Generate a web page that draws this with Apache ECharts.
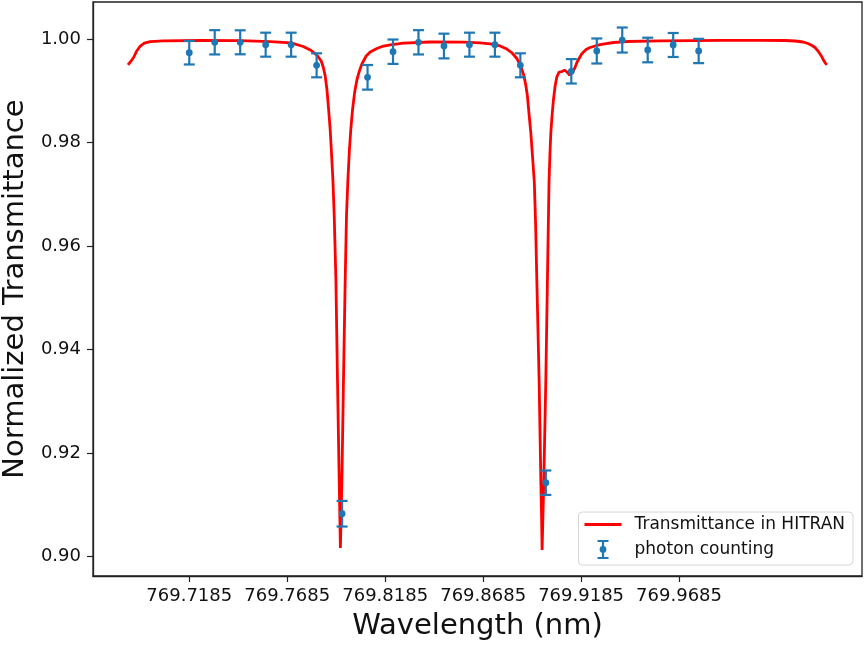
<!DOCTYPE html>
<html>
<head>
<meta charset="utf-8">
<script src="https://cdn.jsdelivr.net/npm/echarts@6/dist/echarts.min.js"></script>
<style>
html,body{margin:0;padding:0;background:#fff;}
#chart{width:865px;height:645px;}
</style>
</head>
<body>
<div id="chart"></div>
<script>
// HITRAN curve
var curveWl = [769.68722,769.68865,769.69008,769.69171,769.69350,769.69554,769.69860,769.70524,769.72411,769.74452,
    769.75983,769.77054,769.77666,769.78075,769.78381,769.78585,769.78687,769.78789,769.78881,769.78957,
    769.79044,769.79115,769.79182,769.79248,769.79335,769.79416,769.79503,769.79539,769.79564,769.79595,
    769.79641,769.79722,769.79809,769.79876,769.79947,769.80024,769.80100,769.80182,769.80294,769.80406,
    769.80524,769.80661,769.80881,769.81085,769.81427,769.81763,769.82105,769.82784,769.84146,769.85845,
    769.86697,769.87207,769.87666,769.88059,769.88330,769.88569,769.88763,769.88906,769.89018,769.89110,
    769.89197,769.89284,769.89365,769.89462,769.89529,769.89590,769.89707,769.89794,769.89835,769.89860,
    769.89896,769.89947,769.90049,769.90131,769.90177,769.90212,769.90258,769.90304,769.90370,769.90437,
    769.90524,769.90610,769.90728,769.90865,769.91008,769.91136,769.91263,769.91391,769.91518,769.91646,
    769.91876,769.92105,769.92309,769.92564,769.92819,769.93498,769.94182,769.95881,769.97580,769.98942,
    770.00983,770.02258,770.02768,770.03177,770.03432,770.03636,770.03789,770.03942,770.04131,770.04248,
    770.04386];
var curveT = [0.99503,0.99571,0.99648,0.99774,0.99870,0.99928,0.99957,0.99971,0.99977,0.99973,
    0.99957,0.99932,0.99861,0.99783,0.99687,0.99580,0.99464,0.99290,0.99019,0.98671,
    0.98246,0.97762,0.97279,0.96602,0.95344,0.93410,0.91476,0.90702,0.90161,0.90702,
    0.91476,0.93410,0.95344,0.96602,0.97279,0.97859,0.98284,0.98632,0.98981,0.99213,
    0.99377,0.99522,0.99677,0.99754,0.99822,0.99870,0.99894,0.99928,0.99948,0.99944,
    0.99932,0.99913,0.99880,0.99812,0.99735,0.99629,0.99484,0.99329,0.99135,0.98903,
    0.98536,0.98188,0.97762,0.97240,0.96408,0.95344,0.93410,0.91476,0.90702,0.90122,
    0.90702,0.91476,0.93410,0.95344,0.96408,0.97240,0.97762,0.98188,0.98536,0.98826,
    0.99097,0.99271,0.99367,0.99377,0.99402,0.99367,0.99309,0.99348,0.99435,0.99561,
    0.99716,0.99803,0.99841,0.99870,0.99897,0.99938,0.99957,0.99969,0.99975,0.99979,
    0.99981,0.99977,0.99967,0.99948,0.99919,0.99880,0.99841,0.99774,0.99667,0.99580,
    0.99503];

// photon counting points
var countWl = [769.7185,769.7315,769.7445,769.7575,769.7705,769.7835,769.7965,769.8095,769.8225,769.8355,
    769.8485,769.8615,769.8745,769.8875,769.9005,769.9135,769.9265,769.9395,769.9525,769.9655,769.9785];
var countT = [0.99741,0.99942,0.99942,0.99896,0.99896,0.99497,0.90824,0.99265,0.99760,0.99942,
    0.99870,0.99896,0.99896,0.99497,0.91424,0.99381,0.99774,0.99986,0.99793,0.99890,0.99774];
var countErr = [0.00228,0.00235,0.00232,0.00232,0.00232,0.00232,0.00248,0.00238,0.00236,0.00235,
    0.00239,0.00232,0.00232,0.00232,0.00236,0.00236,0.00242,0.00242,0.00238,0.00232,0.00235];

var xTicks = [769.7185,769.7685,769.8185,769.8685,769.9185,769.9685];
var yTicks = [0.90,0.92,0.94,0.96,0.98,1.00];

var RED = '#ff0000';
var BLUE = '#1f77b4';
var FONT = 'DejaVu Sans';

var curveData = [];
for (var i = 0; i < curveWl.length; i++) {
    curveData.push([curveWl[i], curveT[i]]);
}
var countData = [];
for (var j = 0; j < countWl.length; j++) {
    countData.push([countWl[j], countT[j], countErr[j]]);
}

// legend icons: flat red bar, and an I-shaped bar with a dot
var lineIcon = 'path://M0,0H37V2.8H0Z';
var errIcon = 'path://M0,0H11V2H0Z M4.4,0H6.6V19H4.4Z M0,17H11V19H0Z M2.1,9.5A3.4,3.4,0,1,1,8.9,9.5A3.4,3.4,0,1,1,2.1,9.5Z';

var renderErr = function (params, api) {
    var x = api.value(0), y = api.value(1), e = api.value(2);
    var top = api.coord([x, y + e]);
    var bot = api.coord([x, y - e]);
    var mid = api.coord([x, y]);
    var st = {stroke: BLUE, lineWidth: 2.2, fill: null};
    return {
        type: 'group',
        children: [
            {type: 'line', shape: {x1: top[0], y1: top[1], x2: bot[0], y2: bot[1]}, style: st},
            {type: 'line', shape: {x1: top[0] - 5.5, y1: top[1], x2: top[0] + 5.5, y2: top[1]}, style: st},
            {type: 'line', shape: {x1: bot[0] - 5.5, y1: bot[1], x2: bot[0] + 5.5, y2: bot[1]}, style: st},
            {type: 'circle', shape: {cx: mid[0], cy: mid[1], r: 3.4}, style: {fill: BLUE}}
        ]
    };
};

var chart = echarts.init(document.getElementById('chart'));
chart.setOption({
    animation: false,
    backgroundColor: '#fff',
    textStyle: {fontFamily: FONT},
    grid: {
        left: 93, right: 3, top: 2, bottom: 69,
        outerBoundsMode: 'none', containLabel: false,
        show: true, borderColor: '#222', borderWidth: 1.3
    },
    legend: {
        orient: 'vertical',
        right: 12,
        top: 512,
        padding: [4, 8, 6, 6],
        itemWidth: 37,
        itemHeight: 19,
        itemGap: 7,
        borderColor: '#d6d6d6',
        borderWidth: 1,
        borderRadius: 4,
        backgroundColor: 'rgba(255,255,255,0.8)',
        textStyle: {fontFamily: FONT, fontSize: 17, color: '#111', padding: [0, 0, 0, 8]},
        data: [
            {name: 'Transmittance in HITRAN', icon: lineIcon, itemStyle: {color: RED}},
            {name: 'photon counting', icon: errIcon, itemStyle: {color: BLUE}}
        ]
    },
    xAxis: {
        type: 'value',
        min: 769.66937,
        max: 770.06187,
        name: 'Wavelength (nm)',
        nameLocation: 'middle',
        nameGap: 36,
        nameTextStyle: {fontFamily: FONT, fontSize: 29, color: '#111'},
        axisLine: {show: true, lineStyle: {color: '#222', width: 1.3}},
        axisTick: {show: true, length: 6, customValues: xTicks, lineStyle: {color: '#222', width: 1.2}},
        axisLabel: {
            customValues: xTicks, margin: 11, fontSize: 18, color: '#111', fontFamily: FONT,
            formatter: function (v) { return v.toFixed(4); }
        },
        splitLine: {show: false}
    },
    yAxis: {
        type: 'value',
        min: 0.89619,
        max: 1.007215,
        name: 'Normalized Transmittance',
        nameLocation: 'middle',
        nameGap: 62,
        nameTextStyle: {fontFamily: FONT, fontSize: 29, color: '#111'},
        axisLine: {show: true, lineStyle: {color: '#222', width: 1.3}},
        axisTick: {show: true, length: 6, customValues: yTicks, lineStyle: {color: '#222', width: 1.2}},
        axisLabel: {
            customValues: yTicks, margin: 12, fontSize: 18, color: '#111', fontFamily: FONT,
            formatter: function (v) { return v.toFixed(2); }
        },
        splitLine: {show: false}
    },
    series: [
        {
            name: 'Transmittance in HITRAN',
            type: 'line',
            data: curveData,
            symbol: 'none',
            lineStyle: {color: RED, width: 2.8},
            itemStyle: {color: RED},
            z: 2
        },
        {
            name: 'photon counting',
            type: 'custom',
            data: countData,
            encode: {x: 0, y: 1},
            renderItem: renderErr,
            itemStyle: {color: BLUE},
            z: 3
        }
    ]
});
</script>
</body>
</html>
